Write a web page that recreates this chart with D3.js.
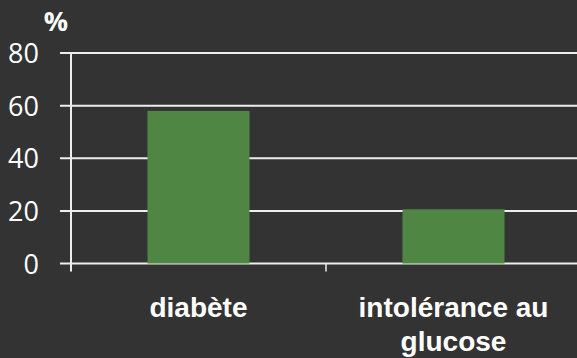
<!DOCTYPE html>
<html>
<head>
<meta charset="utf-8">
<script src="https://cdn.jsdelivr.net/npm/d3@7"></script>
<style>
  html, body { margin: 0; padding: 0; background: #333333; }
  svg { display: block; }
</style>
</head>
<body>
<div id="chart"></div>
<script>
(function() {
    'use strict';

    // data
    const categories = ["diabète", "intolérance au|glucose"];
    const values = [58, 20.6];
    const yTicks = [0, 20, 40, 60, 80];
    const unitLabel = "%";

    const width = 577;
    const height = 358;

    const marginTop = 53;
    const marginLeft = 71;
    const plotBottom = 263.5;
    const plotRight = 581;

    const lineColor = "#eeeeee";
    const barColor = "#4f8643";

    const svg = d3.select("#chart")
        .append("svg")
        .attr("width", width)
        .attr("height", height);

    svg.append("rect")
        .attr("width", width)
        .attr("height", height)
        .attr("fill", "#333333");

    // X SCALE
    const x = d3.scaleBand()
        .domain(categories)
        .range([marginLeft, plotRight])
        .paddingInner(0.6)
        .paddingOuter(0.3);

    // Y SCALE
    const y = d3.scaleLinear()
        .domain([0, 80])
        .range([plotBottom, marginTop]);

    // GRIDLINES
    svg.append("g")
        .selectAll("line")
        .data(yTicks)
        .join("line")
        .attr("x1", 60)
        .attr("x2", width)
        .attr("y1", d => y(d))
        .attr("y2", d => y(d))
        .attr("stroke", lineColor)
        .attr("stroke-width", 2);

    // Y AXIS
    svg.append("g")
        .attr("transform", `translate(${marginLeft}, 0)`)
        .call(d3.axisLeft(y).tickValues(yTicks).tickSize(0).tickPadding(32))
        .call(g => g.select(".domain").remove())
        .selectAll("text")
        .attr("fill", "#ffffff")
        .attr("font-family", "'Open Sans', sans-serif")
        .attr("font-size", "27px")
        .attr("dy", "0.36em");

    svg.append("line")
        .attr("x1", marginLeft)
        .attr("x2", marginLeft)
        .attr("y1", y(80))
        .attr("y2", plotBottom + 8)
        .attr("stroke", lineColor)
        .attr("stroke-width", 2);

    // category boundary ticks
    svg.append("g")
        .selectAll("line")
        .data(categories.slice(1))
        .join("line")
        .attr("x1", d => x(d) - x.step() * 0.3)
        .attr("x2", d => x(d) - x.step() * 0.3)
        .attr("y1", plotBottom)
        .attr("y2", plotBottom + 8)
        .attr("stroke", lineColor)
        .attr("stroke-width", 1.5);

    // BARS
    svg.append("g")
        .selectAll("rect")
        .data(categories)
        .join("rect")
        .attr("x", d => x(d))
        .attr("y", (d, i) => y(values[i]))
        .attr("width", x.bandwidth())
        .attr("height", (d, i) => y(0) - y(values[i]))
        .attr("fill", barColor);

    // unit label
    svg.append("text")
        .attr("x", 56)
        .attr("y", 31)
        .attr("text-anchor", "middle")
        .attr("fill", "#ffffff")
        .attr("font-family", "'Open Sans', sans-serif")
        .attr("font-weight", "700")
        .attr("font-size", "27px")
        .text(unitLabel);

    // CATEGORY LABELS
    svg.append("g")
        .selectAll("text")
        .data(categories)
        .join("text")
        .attr("x", d => x(d) + x.bandwidth() / 2)
        .attr("y", 317)
        .attr("text-anchor", "middle")
        .attr("fill", "#ffffff")
        .attr("font-family", "'Liberation Sans', Arial, sans-serif")
        .attr("font-weight", "700")
        .attr("font-size", "28px")
        .each(function(d) {
            const t = d3.select(this);
            d.split("|").forEach((line, i) => {
                t.append("tspan")
                    .attr("x", x(d) + x.bandwidth() / 2)
                    .attr("dy", i === 0 ? 0 : 34)
                    .text(line);
            });
        });

})();
</script>
</body>
</html>
